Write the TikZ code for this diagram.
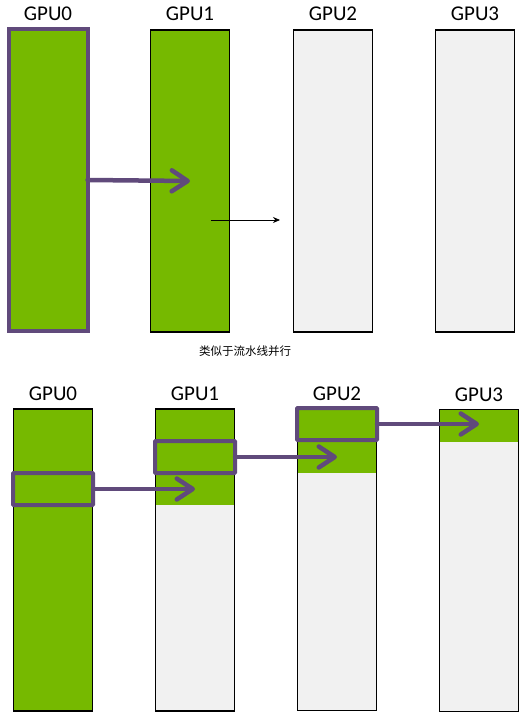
\documentclass[tikz,border=0pt]{standalone}
\usepackage{fontspec}
\setmainfont{Carlito}
\newfontfamily\cjk{Noto Sans CJK SC}
\usepackage{tikz}
\usetikzlibrary{arrows.meta}
\definecolor{nvgreen}{HTML}{76B900}
\definecolor{mbpurple}{HTML}{604A7B}
\definecolor{idlegray}{HTML}{F1F1F1}
\tikzstyle{gpu}=[draw=black, line width=1.8pt, fill=idlegray, minimum width=79pt, minimum height=302pt, inner sep=0pt, outer sep=0pt]
\tikzstyle{busy}=[gpu, fill=nvgreen]
\tikzstyle{mbatch}=[draw=mbpurple, line width=4pt, minimum width=80pt, minimum height=32pt, inner sep=0pt, outer sep=0pt, rounded corners=0.8pt]
\tikzstyle{gpulabel}=[font=\fontsize{21}{21}\selectfont, inner sep=0pt]
\tikzstyle{send}=[draw=mbpurple, line width=4.5pt, line cap=round, -{Straight Barb[length=16pt,width=21pt,round]}]
\tikzset{partly/.style={path picture={\fill[nvgreen] (path picture bounding box.north west) rectangle ([yshift=-#1]path picture bounding box.north east);}}}

\begin{document}
\begin{tikzpicture}[x=1pt,y=-1pt]
    \useasboundingbox (0,0) rectangle (525,720);
    % pipeline without micro-batches
    \node[busy, draw=mbpurple, line width=4pt] (t0) at (48,180) {};
    \node[busy] (t1) at (190,181) {};
    \node[gpu] (t2) at (333,181) {};
    \node[gpu] (t3) at (475,181) {};
    \node[gpulabel] (tl0) at (48,14) {GPU0};
    \node[gpulabel] (tl1) at (190,14) {GPU1};
    \node[gpulabel] (tl2) at (333,14) {GPU2};
    \node[gpulabel] (tl3) at (475,14) {GPU3};
    \draw[send] (t0.east) -- (t1.center);
    \coordinate (next) at (211,220);
    \coordinate (nextend) at (280,220);
    \draw[line width=0.8pt, -{Stealth[length=7pt,width=6pt]}] (next) -- (nextend);
    \node[font=\cjk\fontsize{11.5}{11.5}\selectfont, inner sep=0pt] (cap) at (245,351) {类似于流水线并行};

    % pipeline with micro-batches
    \node[busy] (b0) at (53,560) {};
    \node[gpu, partly=96pt] (b1) at (195,560) {};
    \node[gpu, partly=64pt] (b2) at (337,559.5) {};
    \node[gpu, partly=32pt] (b3) at (479,560.5) {};
    \node[gpulabel] (bl0) at (53,394) {GPU0};
    \node[gpulabel] (bl1) at (195,394) {GPU1};
    \node[gpulabel] (bl2) at (337,394) {GPU2};
    \node[gpulabel] (bl3) at (479,395) {GPU3};
    \node[mbatch] (m0) at (53,489) {};
    \node[mbatch] (m1) at (195,457) {};
    \node[mbatch] (m2) at (337,424) {};
    \draw[send] (m0.east) -- (m0.east -| b1.center);
    \draw[send] (m1.east) -- (m1.east -| b2.center);
    \draw[send] (m2.east) -- (m2.east -| b3.center);
\end{tikzpicture}
\end{document}
